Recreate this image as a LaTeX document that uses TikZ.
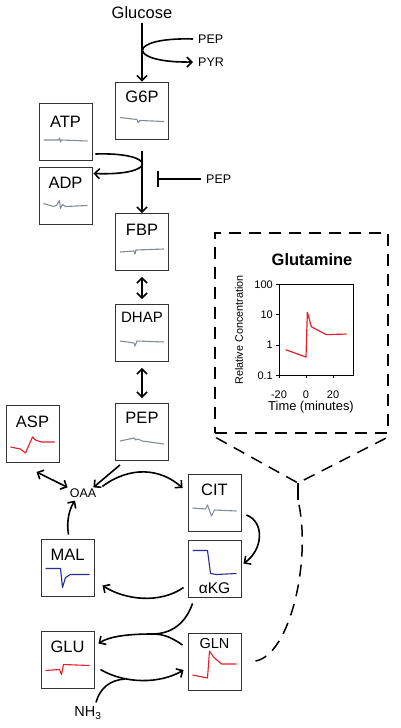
\documentclass[tikz,border=0pt]{standalone}
\usepackage{fontspec}
\setmainfont{Liberation Sans}
\usetikzlibrary{arrows.meta}
\definecolor{tracegray}{RGB}{130,140,152}
\definecolor{tracered}{RGB}{230,30,40}
\definecolor{traceblue}{RGB}{40,44,150}

\begin{document}
\begin{tikzpicture}[x=1pt,y=-1pt,
  metab/.style={draw=black!80,line width=0.9pt,fill=white,minimum width=53,minimum height=57,inner sep=0},
  trace/.style={line width=1.1pt,line join=round},
  rxn/.style={line width=1.6pt,-{Straight Barb[length=5pt,width=10pt]}},
  rxnboth/.style={line width=1.6pt,{Straight Barb[length=5pt,width=10pt]}-{Straight Barb[length=5pt,width=10pt]}},
  dashline/.style={line width=1.5pt,dash pattern=on 12pt off 8pt},
  smalltxt/.style={font=\fontsize{12.5}{14}\selectfont,inner sep=1pt},
  ticktxt/.style={font=\fontsize{11}{12}\selectfont,inner sep=1pt}]
\useasboundingbox (0,0) rectangle (400,728);

 \foreach \n/\x/\y/\t/\d/\s in {g6p/142/110.5/G6P/-14/16.5, atp/65.5/132/ATP/-10/16.5,
   adp/65.5/195.5/ADP/-13/16.5, fbp/142/242/FBP/-12/16.5, dhap/142/333/DHAP/-16/15,
   pep/142/432/PEP/-14/16.5, asp/32.5/434/ASP/-12/16.5, cit/214.5/503/CIT/-13/16.5,
   akg/214.5/568.5/αKG/20/15.5, mal/67.5/567.5/MAL/-13/16.5, glu/67.5/659.5/GLU/-12.5/16.5,
   gln/214.5/662/GLN/-18/14.5}
   {\node[metab] (\n) at (\x,\y) {};
    \node[font=\fontsize{\s}{\s}\selectfont] (\n-t) at ([shift={(0,\d)}]\n.center) {\t};}

 \draw[trace,tracegray,shift={(g6p.center)}] plot coordinates {(-22,7) (-5,9) (-4,12) (-2,10) (22,11)};
 \draw[trace,tracegray,shift={(atp.center)}] plot coordinates {(-22,8) (-7,8) (-6,6) (-5,10) (-4,8) (22,9)};
 \draw[trace,tracegray,shift={(adp.center)}] plot coordinates {(-22,8) (-12,11) (-9,10) (-6,5) (-5,13) (-3,9) (0,11) (22,10)};
 \draw[trace,tracegray,shift={(fbp.center)}] plot coordinates {(-22,10) (-8,9) (-7,12) (-6,8) (22,7)};
 \draw[trace,tracegray,shift={(dhap.center)}] plot coordinates {(-22,8) (-8,10) (-7,13) (-5,8) (22,9)};
 \draw[trace,tracegray,shift={(pep.center)}] plot coordinates {(-22,9) (-8,6) (-6,8) (-4,7) (0,9) (22,12)};
 \draw[trace,tracered,shift={(asp.center)}] plot coordinates {(-22,13) (-12,15) (-7,19) (0,3) (3,6) (9,8) (22,8)};
 \draw[trace,tracegray,shift={(cit.center)}] plot coordinates {(-22,5) (-9,6) (-7,2) (-3,13) (0,7) (22,8)};
 \draw[trace,traceblue,shift={(akg.center)}] plot coordinates {(-22,-18) (-7,-18) (-4,5) (2,6) (22,5)};
 \draw[trace,traceblue,shift={(mal.center)}] plot coordinates {(-22,1) (-7,1) (-5,20) (-2,10) (3,7) (22,7)};
 \draw[trace,tracered,shift={(glu.center)}] plot coordinates {(-22,11) (-8,10) (-6,15) (-4,5) (22,6)};
 \draw[trace,tracered,shift={(gln.center)}] plot coordinates {(-22,13) (-7,16) (-5,-11) (-1,-5) (7,2) (22,2)};

 \node[font=\fontsize{16.5}{18}\selectfont] (glc) at (142,13) {Glucose};
 \node[smalltxt,anchor=west] (pepa) at (197,39) {PEP};
 \node[smalltxt,anchor=west] (pyr) at (197,62) {PYR};
 \node[smalltxt,anchor=west] (pepb) at (205,179) {PEP};
 \node[smalltxt] (oaa) at (83,493) {OAA};
 \node[font=\fontsize{14.5}{16}\selectfont] (nh3) at (88,713) {NH\textsubscript{3}};
 \coordinate (blk) at (157,179);
 \coordinate (jn) at (152,634);
 \coordinate (jn2) at (125,679);

 \draw[rxn] (glc.south) -- (g6p.north);
 \draw[rxn] ([shift={(-4,0)}]pepa.west) .. controls (126,37) and (126,63) .. ([shift={(-4,0)}]pyr.west);
 \draw[rxn] ([shift={(0,12)}]g6p.south) -- (fbp.north);
 \draw[rxn] ([shift={(3,22)}]atp.east) .. controls (158,152) and (158,176) .. ([shift={(1,-22)}]adp.east);
 \draw[line width=1.6pt,-{Bar[width=16pt]}] ([shift={(-4,0)}]pepb.west) -- (blk);
 \draw[rxnboth] ([shift={(0,6)}]fbp.south) -- ([shift={(0,-5)}]dhap.north);
 \draw[rxnboth] ([shift={(0,6)}]dhap.south) -- ([shift={(0,-5)}]pep.north);
 \draw[rxn] ([shift={(-22,4)}]pep.south) -- ([shift={(-4,0)}]oaa.north east);
 \draw[rxnboth] ([shift={(4,9)}]asp.south) -- ([shift={(-1,0)}]oaa.north west);
 \draw[rxn] ([shift={(5,-1)}]oaa.north east) .. controls (130,466) and (160,468) .. ([shift={(-5,-15)}]cit.west);
 \draw[rxn] ([shift={(5,12)}]cit.east) .. controls (265,522) and (263,550) .. ([shift={(2,-5)}]akg.east);
 \draw[rxn] ([shift={(-4,19)}]akg.west) .. controls (160,604) and (125,600) .. ([shift={(8,18)}]mal.east);
 \draw[rxn] ([shift={(1,-4)}]mal.north) .. controls (66,520) and (70,508) .. ([shift={(-8,2)}]oaa.south);
 \draw[rxn] ([shift={(5,6)}]akg.south west) .. controls (185,625) and (170,634) .. (jn)
   .. controls (130,634) and (110,636) .. ([shift={(4,-16)}]glu.east);
 \draw[line width=1.6pt] ([shift={(-5,-17)}]gln.west) .. controls (172,638) and (165,634) .. (jn);
 \draw[rxn] ([shift={(6,10)}]glu.east) .. controls (125,684) and (160,684) .. ([shift={(-4,8)}]gln.west);
 \draw[line width=1.6pt] ([shift={(8,-1)}]nh3.north) .. controls (100,688) and (110,680) .. (jn2);

 \node[draw,dashline,minimum width=173,minimum height=200] (inset) at (301.5,333) {};
 \coordinate (ytip) at (298,483);
 \coordinate (ystub) at (298,500);
 \draw[dashline] ([shift={(2,4)}]inset.south west) -- (ytip) -- ([shift={(-2,4)}]inset.south east);
 \draw[line width=1.5pt] (ytip) -- (ystub);
 \draw[dashline] ([shift={(14,-1)}]gln.east) .. controls (290,655) and (312,560) .. (ystub);

 \node[font=\bfseries\fontsize{16.5}{18}\selectfont] (gtitle) at (312,260) {Glutamine};
 \node[font=\fontsize{10.8}{12}\selectfont,rotate=90] (ylab) at (239,330) {Relative Concentration};
 \node[font=\fontsize{12.9}{14}\selectfont] (xlab) at (311,407) {Time (minutes)};
 \begin{scope}[shift={(306,345)},x=1.35pt,y=30.3pt]
  \draw[line width=0.9pt] (-20,-1) rectangle (35,2);
  \foreach \v/\l [count=\i] in {-1/0.1,0/1,1/10,2/100}
    {\draw[line width=0.9pt] (-20,\v) -- ++(-3pt,0);
     \node[ticktxt,anchor=east] (ytk\i) at ([xshift=-5pt]-20,\v) {\l};}
  \foreach \t [count=\i] in {-20,0,20}
    {\draw[line width=0.9pt] (\t,-1) -- ++(0,-3pt);
     \node[ticktxt,anchor=north] (xtk\i) at ([yshift=-14pt]\t,-1) {\t};}
  \draw[tracered,line width=1.2pt,line join=round] (-15,{log10(0.7)}) -- (0,{log10(0.4)}) -- (1,{log10(12)})
    -- (4,{log10(4)}) -- (15,{log10(2.2)}) -- (30,{log10(2.3)});
 \end{scope}
\end{tikzpicture}
\end{document}
